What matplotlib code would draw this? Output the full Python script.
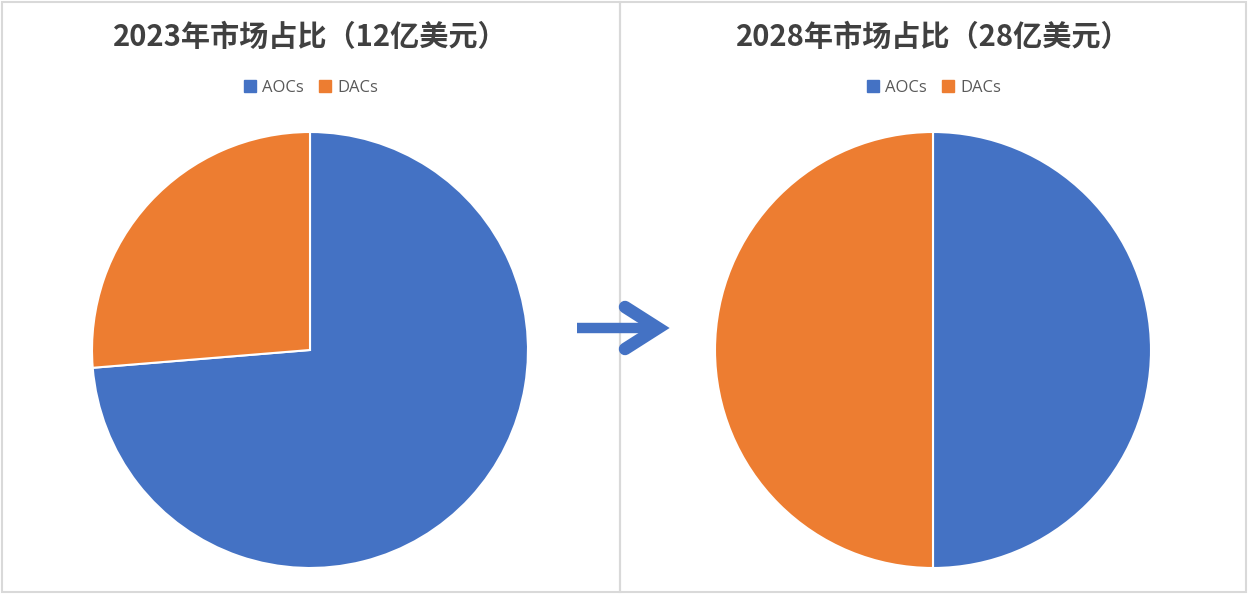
import matplotlib.pyplot as plt
from matplotlib.lines import Line2D
from matplotlib.patches import Rectangle

plt.rcParams['font.family'] = ['Noto Sans CJK SC', 'DejaVu Sans']

# data
labels = ['AOCs', 'DACs']
share_2023 = [73.7, 26.3]
share_2028 = [50, 50]
titles = ['2023年市场占比（12亿美元）', '2028年市场占比（28亿美元）']
colors = ['#4472C4', '#ED7D31']

W, H = 1249, 594
fig = plt.figure(figsize=(W / 100, H / 100), dpi=100)


def fx(x):
    return x / W


def fy(y):
    return 1 - y / H


# panel frames
for x0, x1 in [(2, 620), (620, 1246)]:
    fig.add_artist(Rectangle((fx(x0), fy(592)), fx(x1 - x0), (590) / H,
                             transform=fig.transFigure, fill=False,
                             ec='#d9d9d9', lw=1.5))

centers = [310, 933]
for cx, vals, title in zip(centers, [share_2023, share_2028], titles):
    r = 218
    ax = fig.add_axes([fx(cx - r), fy(350 + r), fx(2 * r), 2 * r / H])
    ax.pie(vals, colors=colors, startangle=90, counterclock=False,
           wedgeprops=dict(edgecolor='white', linewidth=1.5))
    ax.set_xlim(-1, 1)
    ax.set_ylim(-1, 1)
    ax.set_aspect('equal')
    fig.text(fx(cx), fy(37), title, ha='center', va='center',
             fontsize=21, fontweight='bold', color='#404040')
    handles = [Line2D([], [], marker='s', ls='', color=c, markersize=9)
               for c in colors]
    fig.legend(handles, labels, loc='center', ncol=2,
               bbox_to_anchor=(fx(cx), fy(88)), frameon=False,
               labelcolor='#595959', handletextpad=0.2,
               columnspacing=0.8, handlelength=1.0,
               prop={'family': ['Open Sans', 'DejaVu Sans'], 'size': 12})

# arrow between the charts
arrow_col = '#4472C4'
fig.add_artist(Line2D([fx(577), fx(648)], [fy(328), fy(328)],
                      transform=fig.transFigure, color=arrow_col, lw=7.5,
                      solid_capstyle='butt'))
fig.add_artist(Line2D([fx(625), fx(658), fx(625)], [fy(307), fy(328), fy(349)],
                      transform=fig.transFigure, color=arrow_col, lw=9,
                      solid_capstyle='round', solid_joinstyle='miter'))

fig.savefig('out.png', dpi=100, facecolor='white')
